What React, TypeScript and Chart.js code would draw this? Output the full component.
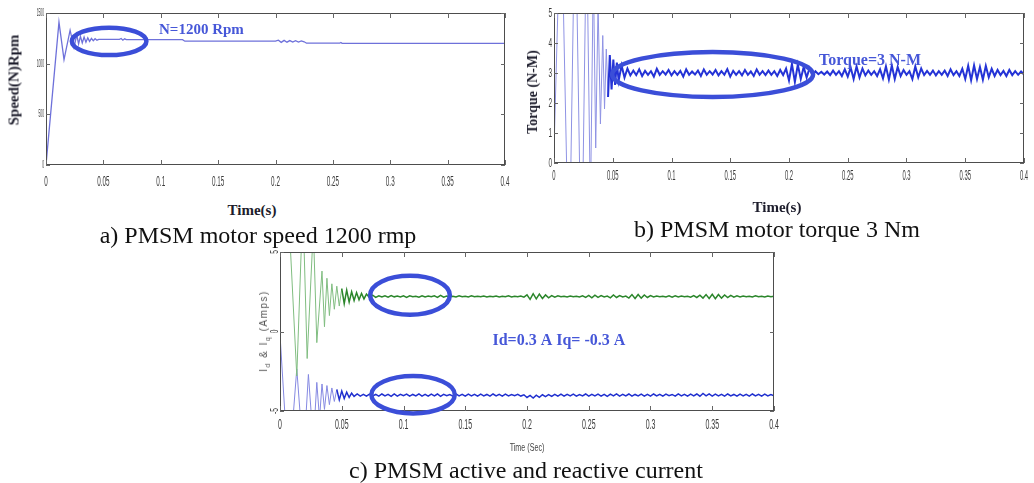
import React, { useEffect, useRef } from 'react';
import { Chart, registerables } from 'chart.js';

Chart.register(...registerables);

// ---------------- data ----------------
const X_TICKS = [0, 0.05, 0.1, 0.15, 0.2, 0.25, 0.3, 0.35, 0.4];
const X_TICK_LABELS = ['0', '0.05', '0.1', '0.15', '0.2', '0.25', '0.3', '0.35', '0.4'];

const SPEED_Y_TICKS = [0, 500, 1000, 1500];
const SPEED_Y_LABELS = ['0', '500', '1000', '1500'];
const TORQUE_Y_TICKS = [0, 1, 2, 3, 4, 5];
const TORQUE_Y_LABELS = ['0', '1', '2', '3', '4', '5'];
const CURRENT_Y_TICKS = [-5, 0, 5];
const CURRENT_Y_LABELS = ['-5', '0', '5'];

// (a) speed, rpm
const SPEED_T = [0, 0.0113, 0.0157, 0.021, 0.0244, 0.0268, 0.0284, 0.030, 0.0316, 0.0332,
  0.0348, 0.0364, 0.038, 0.0396, 0.0412, 0.0428, 0.0444, 0.046, 0.064, 0.0655,
  0.067, 0.0685, 0.070, 0.119, 0.121, 0.2, 0.2025, 0.205, 0.2075, 0.21,
  0.2125, 0.215, 0.2175, 0.22, 0.2225, 0.225, 0.227, 0.256, 0.257, 0.258, 0.4];
const SPEED_V = [0, 1410, 1040, 1330, 1160, 1285, 1195, 1270, 1205, 1262,
  1212, 1255, 1220, 1250, 1226, 1246, 1232, 1240, 1240, 1248,
  1232, 1245, 1237, 1237, 1222, 1222, 1232, 1210, 1230, 1212,
  1228, 1213, 1227, 1214, 1225, 1216, 1202, 1202, 1209, 1201, 1201];

// (b) torque, N-m
const TORQUE_TRANSIENT_T = [0, 0.006, 0.0128, 0.018, 0.0234, 0.0277, 0.031, 0.0335, 0.0355, 0.0375,
  0.0395, 0.0415, 0.043, 0.0445, 0.046, 0.0475, 0.049, 0.0505, 0.052, 0.0535];
const TORQUE_TRANSIENT_V = [0.4, 9, -4, 9, -4, 8, -1.5, 6.5, 0.5, 5.3,
  1.3, 4.25, 1.8, 3.8, 2.2, 3.6, 2.45, 3.45, 2.6, 3.35];
const TORQUE_RIPPLE_START = 0.055;
const TORQUE_RIPPLE_V = [
  2.75, 3.25, 2.85, 3.15, 2.92, 3.08, 2.93, 3.12, 2.9, 3.07,
  2.94, 3.06, 2.88, 3.14, 2.94, 3.06, 2.95, 3.1, 2.92, 3.06,
  2.94, 3.07, 2.88, 3.12, 2.94, 3.05, 2.95, 3.08, 2.9, 3.12,
  2.94, 3.06, 2.95, 3.1, 2.92, 3.06, 2.94, 3.13, 2.88, 3.07,
  2.94, 3.06, 2.92, 3.1, 2.94, 3.05, 2.9, 3.12, 2.94, 3.06,
  2.93, 3.08, 2.94, 3.06, 2.9, 3.1, 2.93, 3.15, 2.75, 3.3,
  2.7, 3.28, 2.8, 3.2, 2.85, 3.16, 2.92, 3.06, 2.96, 3.04,
  2.95, 3.05, 2.93, 3.08, 2.94, 3.06, 2.9, 3.12, 2.88, 3.18,
  2.8, 3.22, 2.85, 3.15, 2.92, 3.08, 2.94, 3.06, 2.9, 3.12,
  2.82, 3.22, 2.78, 3.25, 2.8, 3.2, 2.9, 3.1, 2.94, 3.06,
  2.8, 3.22, 2.86, 3.15, 2.93, 3.07, 2.94, 3.08, 2.92, 3.06,
  2.94, 3.08, 2.9, 3.12, 2.93, 3.06, 2.9, 3.14, 2.8, 3.24,
  2.76, 3.25, 2.8, 3.2, 2.78, 3.24, 2.86, 3.14, 2.9, 3.1,
  2.93, 3.07, 2.9, 3.1, 2.93, 3.06, 2.94, 3.05, 2.95];

// (c) Id (green) and Iq (blue), A
const ID_TRANSIENT_T = [0, 0.006, 0.0136, 0.0185, 0.022, 0.027, 0.0298, 0.034, 0.036, 0.038,
  0.040, 0.042, 0.044, 0.046, 0.048, 0.050, 0.052, 0.054, 0.056, 0.058,
  0.060, 0.062, 0.064, 0.066, 0.068, 0.070];
const ID_TRANSIENT_V = [5.2, 9, -2.8, 8, -1.7, 6.5, -0.7, 3.8, 0.3, 3.35,
  1.0, 3.0, 1.4, 2.85, 1.6, 2.7, 1.75, 2.6, 1.85, 2.5,
  1.95, 2.45, 2.0, 2.4, 2.05, 2.35];
const ID_RIPPLE_START = 0.0725;
const ID_RIPPLE_V = [
  2.12, 2.28, 2.15, 2.25, 2.17, 2.24, 2.16, 2.26, 2.18, 2.23,
  2.17, 2.25, 2.15, 2.24, 2.18, 2.22, 2.16, 2.25, 2.17, 2.23,
  2.18, 2.24, 2.15, 2.27, 2.16, 2.23, 2.18, 2.22, 2.17, 2.24,
  2.18, 2.22, 2.17, 2.24, 2.18, 2.22, 2.19, 2.23, 2.17, 2.22,
  2.18, 2.23, 2.17, 2.22, 2.18, 2.24, 2.17, 2.22, 2.18, 2.23,
  2.16, 2.3, 2.02, 2.38, 2.05, 2.35, 2.08, 2.3, 2.12, 2.26,
  2.16, 2.24, 2.18, 2.22, 2.17, 2.23, 2.18, 2.22, 2.17, 2.24,
  2.15, 2.27, 2.12, 2.29, 2.15, 2.26, 2.17, 2.23, 2.12, 2.3,
  2.14, 2.26, 2.17, 2.23, 2.1, 2.32, 2.08, 2.33, 2.1, 2.3,
  2.14, 2.26, 2.17, 2.23, 2.18, 2.22, 2.17, 2.24, 2.16, 2.25,
  2.17, 2.23, 2.18, 2.22, 2.16, 2.26, 2.14, 2.28, 2.1, 2.32,
  2.08, 2.34, 2.06, 2.33, 2.1, 2.3, 2.13, 2.27, 2.16, 2.24,
  2.17, 2.23, 2.18, 2.22, 2.17, 2.24, 2.18, 2.22, 2.17, 2.23, 2.18, 2.21];

const IQ_TRANSIENT_T = [0, 0.007, 0.0136, 0.019, 0.023, 0.027, 0.0298, 0.032, 0.034, 0.036,
  0.038, 0.040, 0.042, 0.044, 0.046, 0.048, 0.050, 0.052, 0.054, 0.056, 0.058];
const IQ_TRANSIENT_V = [-0.2, -9, -2.35, -8, -2.7, -7, -3.2, -5.5, -3.3, -4.9,
  -3.4, -4.6, -3.55, -4.4, -3.65, -4.3, -3.75, -4.22, -3.82, -4.15, -3.88];
const IQ_RIPPLE_START = 0.06;
const IQ_RIPPLE_V = [
  -4.08, -3.93, -4.06, -3.95, -4.07, -3.94, -4.05, -3.96, -4.07, -3.93,
  -4.05, -3.95, -4.08, -3.92, -4.06, -3.95, -4.04, -3.94, -4.07, -3.96,
  -4.05, -3.92, -4.06, -3.95, -4.07, -3.94, -4.05, -3.93, -4.08, -3.95,
  -4.04, -3.96, -4.06, -3.92, -4.05, -3.95, -4.07, -3.94, -4.05, -3.95,
  -4.06, -3.94, -4.05, -3.96, -4.07, -3.93, -4.05, -3.95, -4.06, -3.94,
  -4.05, -3.96, -4.04, -3.95, -4.06, -3.98, -4.15, -4.02, -4.18, -4.0,
  -4.14, -3.98, -4.1, -3.97, -4.08, -3.95, -4.06, -3.94, -4.07, -3.95,
  -4.05, -3.94, -4.06, -3.96, -4.05, -3.93, -4.07, -3.95, -4.05, -3.94,
  -4.06, -3.95, -4.08, -3.94, -4.05, -3.92, -4.06, -3.95, -4.05, -3.93,
  -4.07, -3.96, -4.05, -3.94, -4.06, -3.95, -4.07, -3.93, -4.05, -3.95,
  -4.06, -3.94, -4.04, -3.96, -4.07, -3.92, -4.05, -3.95, -4.06, -3.94,
  -4.05, -3.93, -4.07, -3.9, -4.05, -3.92, -4.06, -3.94, -4.05, -3.95,
  -4.06, -3.93, -4.05, -3.96, -4.07, -3.94, -4.05, -3.95, -4.06, -3.93,
  -4.05, -3.95, -4.06, -3.94, -4.05, -3.96, -4.04];

const RIPPLE_STEP = 0.0025;

// annotations (data coordinates)
const SPEED_ELLIPSES = [{ t0: 0.0225, t1: 0.0875, v0: 1085, v1: 1355 }];
const SPEED_NOTES = [{ t: 0.0985, v: 1332, text: 'N=1200 Rpm' }];
const TORQUE_ELLIPSES = [{ t0: 0.0495, t1: 0.2205, v0: 2.2, v1: 3.7 }];
const TORQUE_NOTES = [{ t: 0.2255, v: 3.4, text: 'Torque=3 N-M' }];
const CURRENT_ELLIPSES = [
  { t0: 0.073, t1: 0.1375, v0: 1.05, v1: 3.5 },
  { t0: 0.074, t1: 0.1415, v0: -5.15, v1: -2.8 },
];
const CURRENT_NOTES = [{ t: 0.172, v: -0.57, text: 'Id=0.3 A Iq= -0.3 A' }];

// ---------------- drawing ----------------
const ANNOT = '#3b4ed8';
const SERIF = '"Liberation Serif", "Times New Roman", serif';
const SANS = '"Liberation Sans", Arial, sans-serif';

function pairs(ts: number[], vs: number[]) {
  return ts.map((t, i) => ({ x: t, y: vs[i] }));
}
function withRipple(ts: number[], vs: number[], start: number, ripple: number[]) {
  const pts = pairs(ts, vs);
  ripple.forEach((v, i) => pts.push({ x: start + i * RIPPLE_STEP, y: v }));
  return pts;
}

function squeezed(ctx: any, text: string, x: number, y: number, sx: number, align: string, rot = 0) {
  ctx.save();
  ctx.translate(x, y);
  if (rot) ctx.rotate(rot);
  ctx.scale(sx, 1);
  ctx.textAlign = align;
  ctx.textBaseline = 'middle';
  ctx.fillText(text, 0, 0);
  ctx.restore();
}

const framePlugin = {
  id: 'matlabFrame',
  afterDatasetsDraw(chart: any, _args: any, o: any) {
    const { ctx, chartArea: a } = chart;
    const xs = chart.scales.x;
    const ys = chart.scales.y;
    ctx.save();
    // frame
    ctx.strokeStyle = '#4d4d4d';
    ctx.lineWidth = 1;
    ctx.strokeRect(Math.round(a.left) + 0.5, Math.round(a.top) + 0.5,
      Math.round(a.right - a.left) - 1, Math.round(a.bottom - a.top) - 1);
    ctx.strokeStyle = '#666';
    ctx.beginPath();
    for (const v of X_TICKS) {
      const px = Math.round(xs.getPixelForValue(v)) + 0.5;
      ctx.moveTo(px, a.top); ctx.lineTo(px, a.top + 5);
      ctx.moveTo(px, a.bottom); ctx.lineTo(px, a.bottom - 5);
    }
    for (const v of o.yTicks) {
      const py = Math.round(ys.getPixelForValue(v)) + 0.5;
      ctx.moveTo(a.left, py); ctx.lineTo(a.left + 4, py);
      ctx.moveTo(a.right, py); ctx.lineTo(a.right - 4, py);
    }
    ctx.stroke();
    // tick labels
    ctx.fillStyle = '#3a3a3a';
    ctx.font = `${o.xFont}px ${SANS}`;
    X_TICKS.forEach((v, i) => {
      squeezed(ctx, X_TICK_LABELS[i], xs.getPixelForValue(v), a.bottom + o.xOffset, o.xSx, 'center');
    });
    ctx.font = `${o.yFont}px ${SANS}`;
    o.yTicks.forEach((v: number, i: number) => {
      const py = ys.getPixelForValue(v);
      if (o.yRot) squeezed(ctx, o.yLabels[i], a.left - o.yGap, py, o.ySx, 'center', -Math.PI / 2);
      else squeezed(ctx, o.yLabels[i], a.left - o.yGap, py, o.ySx, 'right');
    });
    // ellipses
    ctx.strokeStyle = ANNOT;
    ctx.lineWidth = 4.5;
    for (const e of o.ellipses) {
      const x0 = xs.getPixelForValue(e.t0), x1 = xs.getPixelForValue(e.t1);
      const y0 = ys.getPixelForValue(e.v0), y1 = ys.getPixelForValue(e.v1);
      ctx.beginPath();
      ctx.ellipse((x0 + x1) / 2, (y0 + y1) / 2, Math.abs(x1 - x0) / 2, Math.abs(y1 - y0) / 2, 0, 0, Math.PI * 2);
      ctx.stroke();
    }
    // notes
    ctx.fillStyle = '#4657d8';
    ctx.font = `bold ${o.noteFont}px ${SERIF}`;
    ctx.textAlign = 'left';
    ctx.textBaseline = 'middle';
    for (const n of o.notes) {
      ctx.fillText(n.text, xs.getPixelForValue(n.t), ys.getPixelForValue(n.v));
    }
    ctx.restore();
  },
};

type PanelProps = {
  left: number; top: number; width: number; height: number;
  padding: { left: number; right: number; top: number; bottom: number };
  yMin: number; yMax: number; datasets: any[]; frame: any;
};

function Panel(p: PanelProps) {
  const ref = useRef<HTMLCanvasElement | null>(null);
  useEffect(() => {
    if (!ref.current) return;
    const chart = new Chart(ref.current, {
      type: 'line',
      data: { datasets: p.datasets },
      options: {
        animation: false,
        responsive: false,
        maintainAspectRatio: false,
        layout: { padding: p.padding },
        elements: { point: { radius: 0 }, line: { tension: 0 } },
        scales: {
          x: { type: 'linear', min: 0, max: 0.4, display: false },
          y: { type: 'linear', min: p.yMin, max: p.yMax, display: false },
        },
        plugins: {
          legend: { display: false },
          tooltip: { enabled: false },
          matlabFrame: p.frame,
        } as any,
      },
      plugins: [framePlugin as any],
    });
    return () => chart.destroy();
  }, []);
  return (
    <canvas
      ref={ref}
      width={p.width}
      height={p.height}
      style={{ position: 'absolute', left: p.left, top: p.top, width: p.width, height: p.height }}
    />
  );
}

function Txt(props: { x: number; y: number; rot?: boolean; style: any; children: any }) {
  return (
    <div
      style={{
        position: 'absolute', left: props.x, top: props.y, whiteSpace: 'nowrap', lineHeight: 1,
        transform: `translate(-50%, -50%)${props.rot ? ' rotate(-90deg)' : ''}`,
        ...props.style,
      }}
    >
      {props.children}
    </div>
  );
}

function splitSeg(split: number, light: string, dark: string, wl: number, wd: number) {
  return {
    borderColor: (c: any) => (c.p0.parsed.x < split ? light : dark),
    borderWidth: (c: any) => (c.p0.parsed.x < split ? wl : wd),
  };
}

export default function App() {
  const speedDs = [{
    data: pairs(SPEED_T, SPEED_V), borderColor: '#6e71da', borderWidth: 1.3, fill: false,
  }];
  const torqueDs = [{
    data: withRipple(TORQUE_TRANSIENT_T, TORQUE_TRANSIENT_V, TORQUE_RIPPLE_START, TORQUE_RIPPLE_V),
    borderColor: '#2433d6', borderWidth: 2, fill: false,
    segment: splitSeg(0.046, '#8f93e4', '#2433d6', 1, 2),
  }];
  const currentDs = [
    {
      data: withRipple(ID_TRANSIENT_T, ID_TRANSIENT_V, ID_RIPPLE_START, ID_RIPPLE_V),
      borderColor: '#2b862b', borderWidth: 1.5, fill: false,
      segment: splitSeg(0.05, '#80bd80', '#2b862b', 1, 1.5),
    },
    {
      data: withRipple(IQ_TRANSIENT_T, IQ_TRANSIENT_V, IQ_RIPPLE_START, IQ_RIPPLE_V),
      borderColor: '#2030cf', borderWidth: 1.5, fill: false,
      segment: splitSeg(0.045, '#8589e2', '#2030cf', 1, 1.5),
    },
  ];

  const titleStyle = { fontFamily: SERIF, fontWeight: 'bold', fontSize: 15, color: '#1d1d2c' };
  const capStyle = { fontFamily: SERIF, fontSize: 24, color: '#111' };

  return (
    <div style={{ position: 'fixed', left: 0, top: 0, width: 1034, height: 483, background: '#fff', overflow: 'hidden' }}>
      <Panel
        left={0} top={0} width={515} height={200}
        padding={{ left: 46, right: 10, top: 13, bottom: 35 }}
        yMin={0} yMax={1500} datasets={speedDs}
        frame={{
          yTicks: SPEED_Y_TICKS, yLabels: SPEED_Y_LABELS, xOffset: 17, xFont: 14, xSx: 0.45,
          yFont: 11, ySx: 0.3, yGap: 2, yRot: false, ellipses: SPEED_ELLIPSES, notes: SPEED_NOTES, noteFont: 15,
        }}
      />
      <Panel
        left={515} top={0} width={519} height={200}
        padding={{ left: 39, right: 10, top: 13, bottom: 37 }}
        yMin={0} yMax={5} datasets={torqueDs}
        frame={{
          yTicks: TORQUE_Y_TICKS, yLabels: TORQUE_Y_LABELS, xOffset: 13, xFont: 14, xSx: 0.42,
          yFont: 13, ySx: 0.5, yGap: 2, yRot: false, ellipses: TORQUE_ELLIPSES, notes: TORQUE_NOTES, noteFont: 16,
        }}
      />
      <Panel
        left={240} top={245} width={560} height={200}
        padding={{ left: 40, right: 26, top: 7, bottom: 34 }}
        yMin={-5} yMax={5} datasets={currentDs}
        frame={{
          yTicks: CURRENT_Y_TICKS, yLabels: CURRENT_Y_LABELS, xOffset: 14, xFont: 14, xSx: 0.5,
          yFont: 11, ySx: 0.6, yGap: 5, yRot: true, ellipses: CURRENT_ELLIPSES, notes: CURRENT_NOTES, noteFont: 16,
        }}
      />

      <Txt x={14} y={80} rot style={titleStyle}>Speed(N)Rpm</Txt>
      <Txt x={252} y={210} style={titleStyle}>Time(s)</Txt>
      <Txt x={258} y={235} style={capStyle}>a) PMSM motor speed 1200 rmp</Txt>

      <Txt x={533} y={92} rot style={{ ...titleStyle, fontSize: 14 }}>Torque (N-M)</Txt>
      <Txt x={777} y={207} style={titleStyle}>Time(s)</Txt>
      <Txt x={777} y={229} style={capStyle}>b) PMSM motor torque 3 Nm</Txt>

      <Txt x={265} y={331} rot style={{ fontFamily: SANS, fontSize: 10, letterSpacing: 1.5, color: '#555' }}>
        I<sub style={{ fontSize: 7 }}>d</sub> &amp; I<sub style={{ fontSize: 7 }}>q</sub> (Amps)
      </Txt>
      <Txt x={527} y={447} style={{ fontFamily: SANS, fontSize: 11, color: '#444' }}>
        <span style={{ display: 'inline-block', transform: 'scaleX(0.65)' }}>Time (Sec)</span>
      </Txt>
      <Txt x={526} y={470} style={capStyle}>c) PMSM active and reactive current</Txt>
    </div>
  );
}
